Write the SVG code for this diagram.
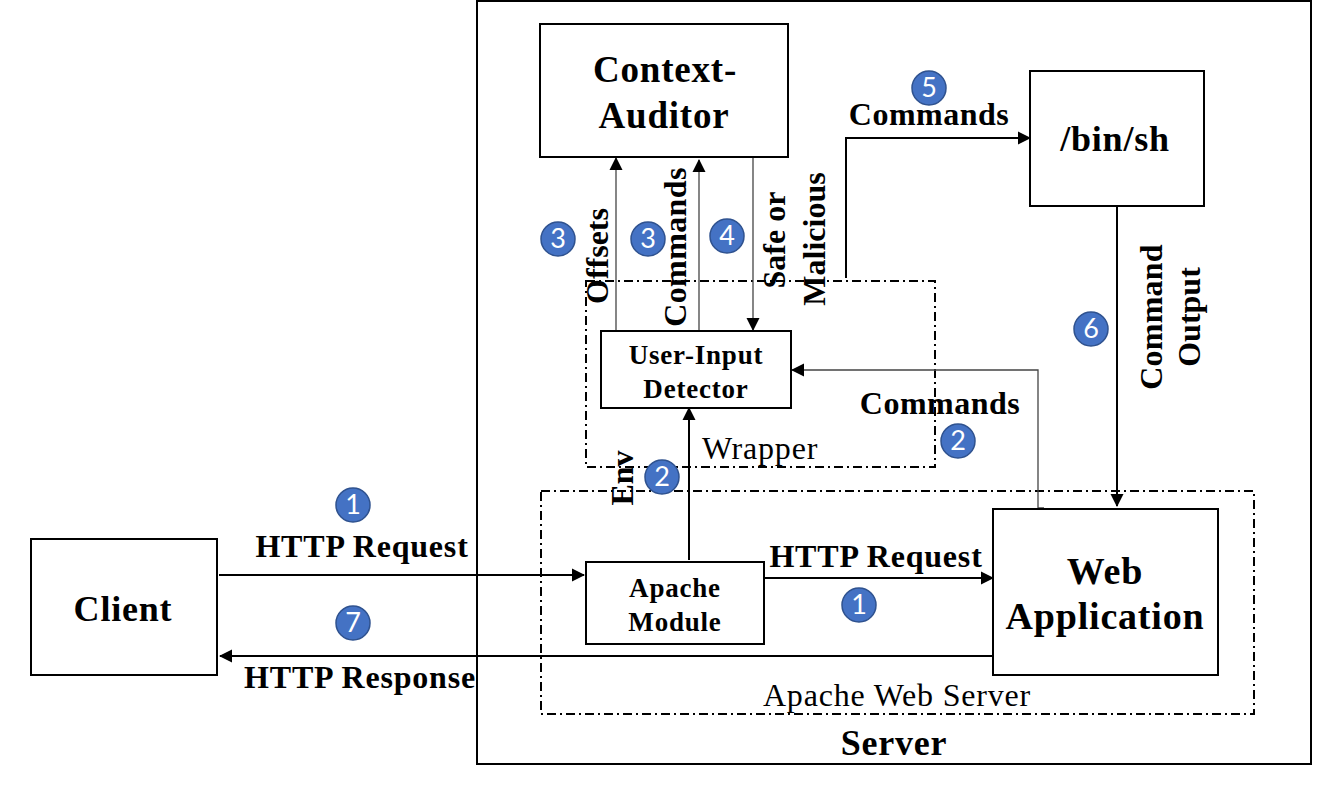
<svg xmlns="http://www.w3.org/2000/svg" width="1327" height="810" viewBox="0 0 1327 810">
<style>
text{font-family:"Liberation Serif","Times New Roman",serif;fill:#000;text-anchor:middle;letter-spacing:.8px}
.b{font-weight:bold}
.box{fill:#fff;stroke:#000;stroke-width:2}
.dash{fill:none;stroke:#000;stroke-width:2;stroke-dasharray:9 4 2 4}
.c{fill:none;stroke:#000;stroke-width:2}
.t{fill:none;stroke:#444;stroke-width:1.3}
.v{letter-spacing:0}
.n circle{fill:#4472c4;stroke:#2f528f;stroke-width:1.5}
.n text{fill:#fff;font-family:"Lato","Liberation Sans",sans-serif;font-size:27px;letter-spacing:0}
</style>
<defs><marker id="a" markerUnits="userSpaceOnUse" markerWidth="13" markerHeight="14" refX="12" refY="7" orient="auto"><path d="M0 0.500L13 7L0 13.500Z" fill="#000"/></marker></defs>
<g id="server"><rect x="477" y="1" width="834" height="763" fill="#fff" stroke="#000" stroke-width="2"/><text class="b" x="894" y="755" font-size="36">Server</text></g>
<g id="wrapper"><rect class="dash" x="586" y="281" width="349" height="186"/><text x="760" y="459" font-size="32">Wrapper</text></g>
<g id="apache-web-server"><rect class="dash" x="541" y="491" width="713" height="223"/><text x="897" y="706" font-size="32">Apache Web Server</text></g>
<g id="connectors">
<path class="c" marker-end="url(#a)" d="M219 575H584"/>
<path class="c" marker-end="url(#a)" d="M993 656H220"/>
<path class="c" marker-end="url(#a)" d="M764 578H993"/>
<path class="c" marker-end="url(#a)" d="M689 560V408"/>
<path class="t" marker-end="url(#a)" d="M1044 508H1038V370H792"/>
<path class="t" marker-end="url(#a)" d="M616 330V158"/>
<path class="t" marker-end="url(#a)" d="M699 332V160"/>
<path class="t" marker-end="url(#a)" d="M753 157V330"/>
<path class="c" marker-end="url(#a)" d="M846 278V138H1030"/>
<path class="c" marker-end="url(#a)" d="M1117 206V506"/>
</g>
<g id="context-auditor"><rect class="box" x="540" y="24" width="248" height="133"/><text class="b" x="665" y="82" font-size="37">Context-</text><text class="b" x="664" y="128" font-size="37">Auditor</text></g>
<g id="bin-sh"><rect class="box" x="1030" y="71" width="174" height="135"/><text class="b" x="1115" y="151" font-size="36">/bin/sh</text></g>
<g id="user-input-detector"><rect class="box" x="601" y="331" width="190" height="77"/><text class="b" x="696" y="364" font-size="27">User-Input</text><text class="b" x="696" y="398" font-size="27">Detector</text></g>
<g id="apache-module"><rect class="box" x="586" y="562" width="178" height="82"/><text class="b" x="675" y="597" font-size="27">Apache</text><text class="b" x="675" y="631" font-size="27">Module</text></g>
<g id="web-application"><rect class="box" x="993" y="509" width="225" height="166"/><text class="b" x="1105" y="584" font-size="38">Web</text><text class="b" x="1105" y="629" font-size="38">Application</text></g>
<g id="client"><rect class="box" x="31" y="539" width="186" height="136"/><text class="b" x="123" y="621" font-size="36">Client</text></g>
<g id="labels" class="b" font-weight="bold">
<text x="362" y="557" font-size="32">HTTP Request</text>
<text x="360" y="688" font-size="32">HTTP Response</text>
<text x="876" y="567" font-size="32">HTTP Request</text>
<text x="929" y="125" font-size="32" style="letter-spacing:.5px">Commands</text>
<text x="940" y="414" font-size="32" style="letter-spacing:.5px">Commands</text>
<text class="v" transform="translate(608 256) rotate(-90)" font-size="32">Offsets</text>
<text class="v" transform="translate(686 247) rotate(-90)" font-size="32" style="letter-spacing:.4px">Commands</text>
<text class="v" transform="translate(785 240) rotate(-90)" font-size="32">Safe or</text>
<text class="v" transform="translate(825 239) rotate(-90)" font-size="32">Malicious</text>
<text class="v" transform="translate(633 478) rotate(-90)" font-size="32">Env</text>
<text class="v" transform="translate(1162 317) rotate(-90)" font-size="32" style="letter-spacing:.2px">Command</text>
<text class="v" transform="translate(1200 317) rotate(-90)" font-size="32">Output</text>
</g>
<g class="n" id="n1a"><circle cx="353" cy="505" r="17"/><text x="353" y="514">1</text></g>
<g class="n" id="n1b"><circle cx="859" cy="605" r="17"/><text x="859" y="614">1</text></g>
<g class="n" id="n2a"><circle cx="662" cy="477" r="17"/><text x="662" y="486">2</text></g>
<g class="n" id="n2b"><circle cx="958" cy="441" r="17"/><text x="958" y="450">2</text></g>
<g class="n" id="n3a"><circle cx="558" cy="239" r="17"/><text x="558" y="248">3</text></g>
<g class="n" id="n3b"><circle cx="648" cy="239" r="17"/><text x="648" y="248">3</text></g>
<g class="n" id="n4"><circle cx="727" cy="236" r="17"/><text x="727" y="245">4</text></g>
<g class="n" id="n5"><circle cx="929" cy="88" r="17"/><text x="929" y="97">5</text></g>
<g class="n" id="n6"><circle cx="1091" cy="329" r="17"/><text x="1091" y="338">6</text></g>
<g class="n" id="n7"><circle cx="353" cy="623" r="17"/><text x="353" y="632">7</text></g>
</svg>
